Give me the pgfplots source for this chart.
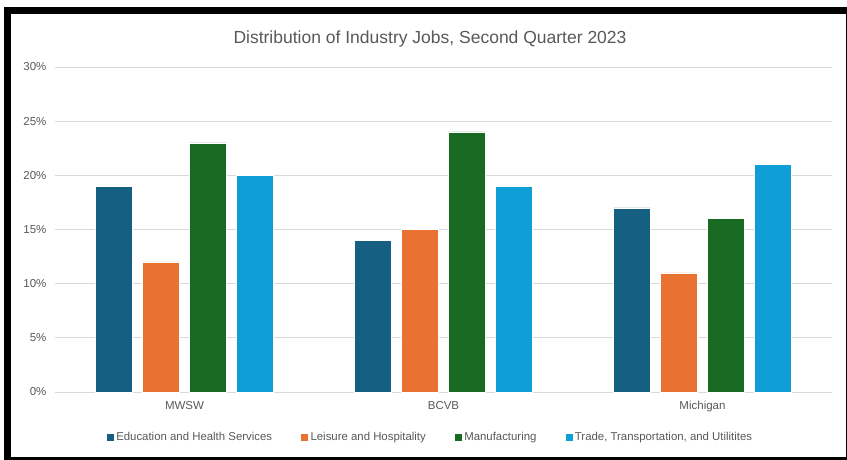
\documentclass[border=0pt]{standalone}
\usepackage{pgfplots}
\pgfplotsset{compat=1.18}
\usepackage{fontspec}
\setmainfont{Liberation Sans}
\definecolor{edu}{HTML}{156082}
\definecolor{leis}{HTML}{E97132}
\definecolor{manu}{HTML}{196B24}
\definecolor{trade}{HTML}{0F9ED5}
\definecolor{txt}{HTML}{595959}
\definecolor{gridc}{HTML}{D9D9D9}
\begin{document}
\begin{tikzpicture}
\path[fill=white] (0pt,0pt) rectangle (847pt,460pt);
\fill[black] (4pt,0pt) rectangle (847pt,453pt);
\fill[white] (11pt,3pt) rectangle (846pt,446pt);
\node[text=txt,font=\fontsize{17.5}{20}\selectfont] at (430pt,421pt) {Distribution of Industry Jobs, Second Quarter 2023};
\begin{axis}[
  at={(55pt,68pt)}, anchor=south west,
  scale only axis, width=777pt, height=325pt,
  xmin=-0.5, xmax=2.5, ymin=0, ymax=30,
  ybar=10pt, bar width=37pt,
  axis line style={draw=none},
  major tick length=0pt,
  xmajorgrids=false, ymajorgrids=true,
  grid style={color=gridc, line width=0.8pt},
  ytick={0,5,...,30},
  yticklabels={0\%,5\%,10\%,15\%,20\%,25\%,30\%},
  xtick={0,1,2}, xticklabels={MWSW,BCVB,Michigan},
  yticklabel style={text=txt, font=\fontsize{11.5}{13}\selectfont, xshift=-5pt},
  xticklabel style={text=txt, font=\fontsize{11.5}{13}\selectfont, yshift=-6pt},
  legend columns=-1,
  legend style={at={(0.4826,-0.138)}, anchor=center, draw=none, fill=none,
    font=\fontsize{11.4}{13}\selectfont, text=txt,
    /tikz/every even column/.append style={column sep=26pt}},
  legend image code/.code={\fill[#1] (0pt,-4pt) rectangle (8pt,4pt);},
  every axis plot/.append style={draw=white, line width=0.4pt},
  clip=false,
]
\addplot[fill=edu] coordinates {(0,19) (1,14) (2,17)};
\addplot[fill=leis] coordinates {(0,12) (1,15) (2,11)};
\addplot[fill=manu] coordinates {(0,23) (1,24) (2,16)};
\addplot[fill=trade] coordinates {(0,20) (1,19) (2,21)};
\legend{Education and Health Services, Leisure and Hospitality, Manufacturing, {Trade, Transportation, and Utilitites}}
\end{axis}
\end{tikzpicture}
\end{document}
